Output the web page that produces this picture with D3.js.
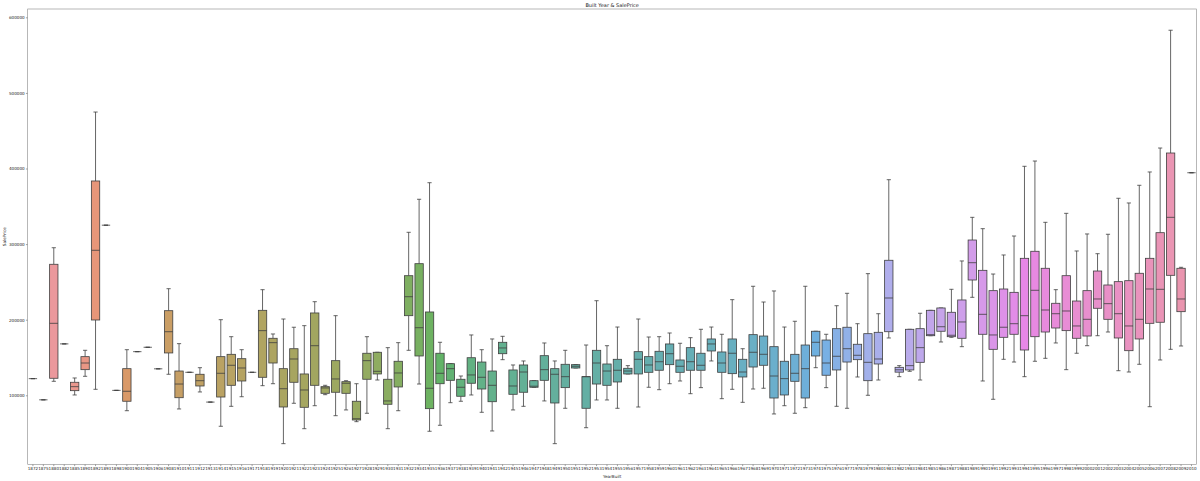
<!DOCTYPE html>
<html><head><meta charset="utf-8">
<script src="https://cdn.jsdelivr.net/npm/d3@7"></script>
<style>body{margin:0;background:#fff}svg{display:block}</style>
</head><body><svg id="c" width="1200" height="481"></svg>
<script>
const years = [1872,1875,1880,1882,1885,1890,1892,1893,1898,1900,1904,1905,1906,1908,1910,1911,1912,1913,1914,1915,1916,1917,1918,1919,1920,1921,1922,1923,1924,1925,1926,1927,1928,1929,1930,1931,1932,1934,1935,1936,1937,1938,1939,1940,1941,1942,1945,1946,1947,1948,1949,1950,1951,1952,1953,1954,1955,1956,1957,1958,1959,1960,1961,1962,1963,1964,1965,1966,1967,1968,1969,1970,1971,1972,1973,1974,1975,1976,1977,1978,1979,1980,1981,1982,1983,1984,1985,1986,1987,1988,1989,1990,1991,1992,1993,1994,1995,1996,1997,1998,1999,2000,2001,2002,2003,2004,2005,2006,2007,2008,2009,2010];
const whiskerLow = [122000,94000,118500,168000,100400,125100,107900,325000,106500,79600,157700,163500,135000,127800,81900,130400,104400,91000,59000,85400,98100,130400,112700,115300,36000,89400,55800,86200,100800,73000,80600,65100,76200,120200,55800,79600,159500,114900,52400,60300,90200,92100,100400,77500,52800,147100,80600,85400,110600,92500,36000,82800,136100,57100,93800,93800,82800,128200,84500,110600,107400,115300,118900,102100,110100,145400,95500,107900,90700,108300,109300,75300,86200,76200,83600,136500,110100,85400,82800,124200,100000,120200,175800,124600,131700,120200,178800,170500,176700,164300,229600,118900,94700,147600,144000,124600,145000,148900,169200,133900,155600,165600,178800,183700,132500,130800,141000,84900,146700,160800,165200,394400];
const q1 = [122000,94000,122500,168000,106100,133900,199600,325000,106500,92100,157700,163500,135000,156000,96800,130400,112300,91000,97700,113200,118900,130400,123800,142700,84500,117200,84100,113200,102600,104000,102600,67300,121200,128200,88100,111000,205300,152000,82300,115300,119800,98700,115900,108300,91500,155000,101300,104000,110600,119800,89800,110100,136100,82800,114900,113200,117600,128200,128200,130400,133100,140500,130400,133100,133100,158600,130400,128600,124200,137400,139700,96400,100400,118500,96400,152000,126500,133500,144000,147100,119300,141400,184100,130600,133500,143600,178800,184700,177500,175400,252500,180700,160800,176700,180700,159900,177500,183700,189000,185500,175400,178400,215100,200500,175800,159000,174500,195200,196600,258700,210600,394400];
const median = [122000,94000,195200,168000,111400,142700,291800,325000,106500,105300,157700,163500,135000,184100,114900,130400,119300,91000,129100,139700,136100,130400,185500,169600,108700,148000,107000,165600,109700,121600,115900,69000,145800,131700,92500,129500,230400,189400,109300,129100,135200,110600,126900,123800,113200,162600,112300,130800,112000,133900,127800,124600,138400,124600,142700,132100,133100,132100,147600,140100,144400,155000,138400,144400,139700,167900,142700,155600,130800,156900,154200,125500,122000,129100,135200,170100,142700,151600,161600,152900,143600,148000,228700,133700,139200,163000,180200,190700,179400,197000,275400,207100,179800,190000,194700,205300,238900,212800,207900,211500,191700,200500,227400,221200,207900,191700,200500,240600,240200,335400,227400,394400];
const q3 = [122000,94000,273300,168000,117200,151100,383500,325000,106500,135200,157700,163500,135000,211900,132100,130400,127800,91000,151100,154200,148400,130400,212400,175400,135200,161600,128200,208900,111400,145800,118000,92100,155600,156900,121200,145000,258200,274100,210200,155600,141800,121200,149700,144000,132100,170100,133500,140100,119300,152400,135200,141000,140500,124600,159500,141400,147600,135700,157700,151100,158200,167900,146700,163000,155600,174500,157300,174500,147600,180200,178400,164300,145000,154200,166500,184700,173100,188100,190000,167500,181500,183300,278600,137000,187300,188100,212400,215500,209800,226100,305400,265300,238400,240600,236200,281200,290500,268000,221700,258200,224700,238400,264400,245900,250300,251600,261400,281200,315100,420500,268000,394400];
const whiskerHigh = [122000,94000,295200,168000,122900,159500,474700,325000,106500,160300,157700,163500,135000,241000,168300,130400,136500,91000,200000,177500,160300,130400,239700,181100,200900,190000,192100,223800,113200,205300,119300,115300,177500,156900,163000,169600,315600,359300,381200,170100,141800,125500,179800,160300,174500,178000,140100,145400,119300,169200,145400,159500,140500,166500,225100,165600,190300,139200,200900,177100,177500,182400,168800,176200,187300,190300,180700,226500,161600,244200,223400,238000,190300,197900,244200,184700,180700,218500,234900,194700,260900,207900,385200,139200,187300,208500,212400,215500,240200,277700,335400,320400,260400,285600,310700,402900,409900,328800,239700,340700,290900,313400,287300,313000,360600,354400,377800,395400,427100,582900,269300,394400];
const yTicks = [100000,200000,300000,400000,500000,600000];

// --- seaborn husl palette (h=.01, s=.9, l=.65) + desaturate(.75) ---
const M = [[3.2406,-1.5372,-0.4986],[-0.9689,1.8758,0.0415],[0.0557,-0.2040,1.0570]];
const refU = 0.19784, refV = 0.46834;
function maxChroma(L, H) {
  const hr = H * Math.PI / 180, sinH = Math.sin(hr), cosH = Math.cos(hr);
  const sub1 = Math.pow(L + 16, 3) / 1560896.0;
  const sub2 = sub1 > 0.008856 ? sub1 : L / 903.3;
  let result = Infinity;
  for (const [m1, m2, m3] of M) {
    const top = (0.99915*m1 + 1.05122*m2 + 1.14460*m3) * sub2;
    const rb = 0.86330*m3 - 0.17266*m2;
    const lb = 0.12949*m3 - 0.38848*m1;
    const bottom = (rb*sinH + lb*cosH) * sub2;
    for (const t of [0, 1]) {
      const C = L * (top - 1.05122*t) / (bottom + 0.17266*sinH*t);
      if (C > 0 && C < result) result = C;
    }
  }
  return result;
}
function fromLinear(c) { return c <= 0.0031308 ? 12.92*c : 1.055*Math.pow(c, 1/2.4) - 0.055; }
function huslToRgb(h, s, l) {
  const C = maxChroma(l, h) / 100 * s;
  const hr = h * Math.PI / 180;
  const U = Math.cos(hr)*C, V = Math.sin(hr)*C;
  const t = (l + 16) / 116;
  const varY = Math.pow(t,3) > 0.008856 ? Math.pow(t,3) : (116*t - 16)/903.3;
  const varU = U/(13*l) + refU, varV = V/(13*l) + refV;
  const Y = varY;
  const X = -(9*Y*varU) / ((varU - 4)*varV - varU*varV);
  const Z = (9*Y - 15*varV*Y - varV*X) / (3*varV);
  return M.map(r => Math.min(1, Math.max(0, fromLinear(r[0]*X + r[1]*Y + r[2]*Z))));
}
function rgbToHls([r,g,b]) {
  const mx = Math.max(r,g,b), mn = Math.min(r,g,b), l = (mx+mn)/2;
  if (mx === mn) return [0, l, 0];
  const s = l <= 0.5 ? (mx-mn)/(mx+mn) : (mx-mn)/(2-mx-mn);
  const rc = (mx-r)/(mx-mn), gc = (mx-g)/(mx-mn), bc = (mx-b)/(mx-mn);
  let h = r === mx ? bc-gc : g === mx ? 2+rc-bc : 4+gc-rc;
  h = ((h/6) % 1 + 1) % 1;
  return [h, l, s];
}
function hlsToRgb(h, l, s) {
  if (s === 0) return [l,l,l];
  const m2 = l <= 0.5 ? l*(1+s) : l+s-l*s, m1 = 2*l - m2;
  const v = hh => { hh = ((hh % 1) + 1) % 1;
    if (hh < 1/6) return m1 + (m2-m1)*hh*6;
    if (hh < 0.5) return m2;
    if (hh < 2/3) return m1 + (m2-m1)*(2/3-hh)*6;
    return m1; };
  return [v(h+1/3), v(h), v(h-1/3)];
}
const n = years.length;
const rgbColors = d3.range(n).map(i => {
  let h = (i / n + 0.01) % 1;
  const rgb = huslToRgb(h*359, 0.9*99, 0.65*99);
  const [hh, ll, ss] = rgbToHls(rgb);
  return hlsToRgb(hh, ll, ss*0.75);
});
const lum = d3.min(rgbColors, c => rgbToHls(c)[1]) * 0.6;
const gray = d3.rgb(lum*255, lum*255, lum*255).formatHex();
// boxes in the picture look slightly washed out: blend with white
const wash = 0.17;
const toHex = c => d3.rgb(...c.map(v => (v + (1 - v) * wash) * 255)).formatHex();

// --- layout ---
const L = 27.7, R = 1196.7, T = 9, B = 464.3;
const svg = d3.select("#c");
svg.append("rect").attr("width",1200).attr("height",481).attr("fill","#fff");
const x = d3.scaleBand().domain(years.map(String)).range([L, R]).paddingInner(0.2).paddingOuter(0.1);
const y = d3.scaleLinear().domain([8700, 611000]).range([B, T]);
const bw = x.bandwidth();
const font = "DejaVu Sans, sans-serif";
const lw = 0.8;

const g = svg.append("g");
years.forEach((yr, i) => {
  const cx = x(String(yr)) + bw/2;
  const gi = g.append("g");
  gi.append("line").attr("x1",cx).attr("x2",cx).attr("y1",y(whiskerLow[i])).attr("y2",y(q1[i])).attr("stroke",gray).attr("stroke-width",lw);
  gi.append("line").attr("x1",cx).attr("x2",cx).attr("y1",y(q3[i])).attr("y2",y(whiskerHigh[i])).attr("stroke",gray).attr("stroke-width",lw);
  [whiskerLow[i], whiskerHigh[i]].forEach(v => {
    gi.append("line").attr("x1",cx-bw/4).attr("x2",cx+bw/4).attr("y1",y(v)).attr("y2",y(v)).attr("stroke",gray).attr("stroke-width",lw);
  });
  gi.append("rect").attr("x",x(String(yr))).attr("width",bw)
    .attr("y",y(q3[i])).attr("height",Math.max(0,y(q1[i])-y(q3[i])))
    .attr("fill",toHex(rgbColors[i])).attr("stroke",gray).attr("stroke-width",lw);
  gi.append("line").attr("x1",x(String(yr))).attr("x2",x(String(yr))+bw).attr("y1",y(median[i])).attr("y2",y(median[i])).attr("stroke",gray).attr("stroke-width",lw);
});

// axes
const yAxis = d3.axisLeft(y).tickValues(yTicks).tickFormat(d3.format("d")).tickSize(1.8).tickPadding(1.3);
const ya = svg.append("g").attr("transform",`translate(${L},0)`).call(yAxis);
const xAxis = d3.axisBottom(x).tickSize(1.8).tickPadding(1.1);
const xa = svg.append("g").attr("transform",`translate(0,${B})`).call(xAxis);
[ya, xa].forEach(a => {
  a.select(".domain").remove();
  a.selectAll(".tick line").attr("stroke","#444").attr("stroke-width",0.5);
  a.selectAll(".tick text").attr("font-family",font).attr("font-size",4.1).attr("fill","#222");
});

svg.append("rect").attr("x",L).attr("y",T).attr("width",R-L).attr("height",B-T)
  .attr("fill","none").attr("stroke","#888").attr("stroke-width",0.6);

svg.append("text").attr("x",(L+R)/2).attr("y",6.8).attr("text-anchor","middle")
  .attr("font-family",font).attr("font-size",5).attr("fill","#222").text("Built Year & SalePrice");
svg.append("text").attr("x",(L+R)/2).attr("y",477.5).attr("text-anchor","middle")
  .attr("font-family",font).attr("font-size",4.2).attr("fill","#222").text("YearBuilt");
svg.append("text").attr("transform",`translate(6.3,${(T+B)/2}) rotate(-90)`).attr("text-anchor","middle")
  .attr("font-family",font).attr("font-size",4.2).attr("fill","#222").text("SalePrice");
</script></body></html>
